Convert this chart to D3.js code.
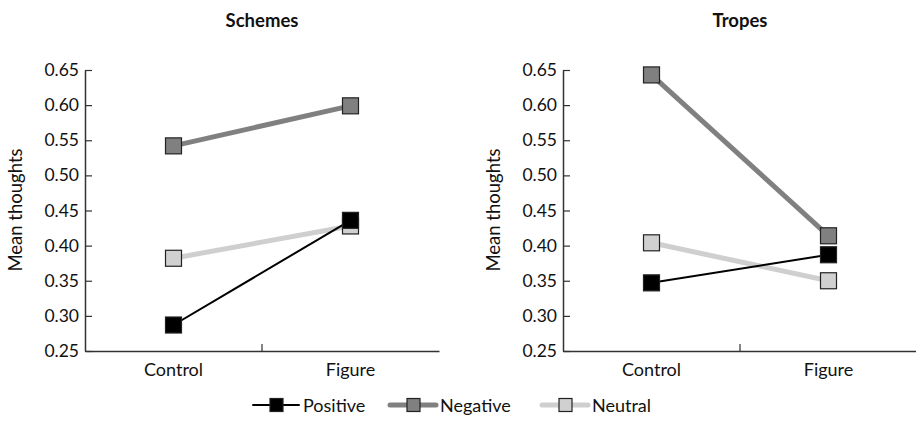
<!DOCTYPE html>
<html><head><meta charset="utf-8">
<script src="https://cdn.jsdelivr.net/npm/d3@7/dist/d3.min.js"></script>
<style>body{margin:0;background:#fff}svg{display:block}text{font-family:Lato,"Open Sans",sans-serif;fill:#111}</style>
</head><body><svg id="c" width="916" height="430"></svg>
<script>
const categories = ["Control", "Figure"];
const panels = ["Schemes", "Tropes"];
const seriesNames = ["Positive", "Negative", "Neutral"];
const schemesPositive = [0.287, 0.436];
const schemesNegative = [0.542, 0.599];
const schemesNeutral = [0.382, 0.428];
const tropesPositive = [0.347, 0.387];
const tropesNegative = [0.643, 0.414];
const tropesNeutral = [0.404, 0.350];
const yTicks = [0.25, 0.30, 0.35, 0.40, 0.45, 0.50, 0.55, 0.60, 0.65];

const styles = {
  Positive: {line: "#000", width: 2, fill: "#000"},
  Negative: {line: "#808080", width: 5, fill: "#808080"},
  Neutral: {line: "#cfcfcf", width: 5, fill: "#d0d0d0"}
};
const panelData = [
  {Positive: schemesPositive, Negative: schemesNegative, Neutral: schemesNeutral},
  {Positive: tropesPositive, Negative: tropesNegative, Neutral: tropesNeutral}
];
const svg = d3.select("#c");
const y = d3.scaleLinear().domain([0.25, 0.65]).range([351, 70]);
const left0 = [85, 563];
const drawOrder = ["Neutral", "Negative", "Positive"];

panels.forEach((p, i) => {
  const x0 = left0[i];
  const x = d3.scaleBand().domain(categories).range([x0, x0 + 354]);
  const g = svg.append("g");
  g.append("text").attr("x", x0 + 177).attr("y", 27).attr("text-anchor", "middle")
    .attr("font-size", 18.5).attr("font-weight", "bold").text(p);
  const ya = g.append("g").attr("transform", `translate(${x0},0)`)
    .call(d3.axisLeft(y).tickValues(yTicks).tickFormat(d3.format(".2f")).tickSizeInner(-7).tickSizeOuter(0).tickPadding(6));
  ya.select(".domain").attr("stroke", "#333").attr("stroke-width", 1.5);
  ya.selectAll(".tick line").attr("stroke", "#333").attr("stroke-width", 1.2);
  ya.selectAll(".tick text").attr("font-size", 17.5).attr("fill", "#111").attr("font-family", "Lato");
  const xa = g.append("g").attr("transform", `translate(0,351)`)
    .call(d3.axisBottom(x).tickSize(0).tickPadding(10));
  xa.select(".domain").attr("stroke", "#333").attr("stroke-width", 1.5);
  xa.selectAll(".tick text").attr("font-size", 18).attr("fill", "#111").attr("font-family", "Lato").attr("dy", "0.85em");
  g.append("line").attr("x1", x0 + 177).attr("x2", x0 + 177).attr("y1", 351).attr("y2", 344)
    .attr("stroke", "#333").attr("stroke-width", 1.2);
  g.append("text").attr("transform", `translate(${x0 - 63},210) rotate(-90)`).attr("text-anchor", "middle")
    .attr("font-size", 18.5).text("Mean thoughts");
  const cx = c => x(c) + x.bandwidth() / 2;
  drawOrder.forEach(s => {
    const vals = panelData[i][s];
    const st = styles[s];
    const pts = categories.map((c, k) => [cx(c), y(vals[k])]);
    g.append("path").attr("d", d3.line()(pts)).attr("fill", "none")
      .attr("stroke", st.line).attr("stroke-width", st.width);
    g.selectAll(null).data(pts).enter().append("rect")
      .attr("x", d => d[0] - 8).attr("y", d => d[1] - 8).attr("width", 16).attr("height", 16)
      .attr("fill", st.fill).attr("stroke", "#222").attr("stroke-width", 1.2);
  });
});

const legX = [253, 390, 542];
seriesNames.forEach((s, k) => {
  const st = styles[s];
  const lx = legX[k], ly = 405;
  svg.append("line").attr("x1", lx).attr("x2", lx + 46).attr("y1", ly).attr("y2", ly)
    .attr("stroke", st.line).attr("stroke-width", st.width).attr("stroke-linecap", "round");
  svg.append("rect").attr("x", lx + 17).attr("y", ly - 6.5).attr("width", 13).attr("height", 13)
    .attr("fill", st.fill).attr("stroke", "#222").attr("stroke-width", 1.2);
  svg.append("text").attr("x", lx + 50).attr("y", ly + 6.5).attr("font-size", 18).text(s);
});
</script></body></html>
